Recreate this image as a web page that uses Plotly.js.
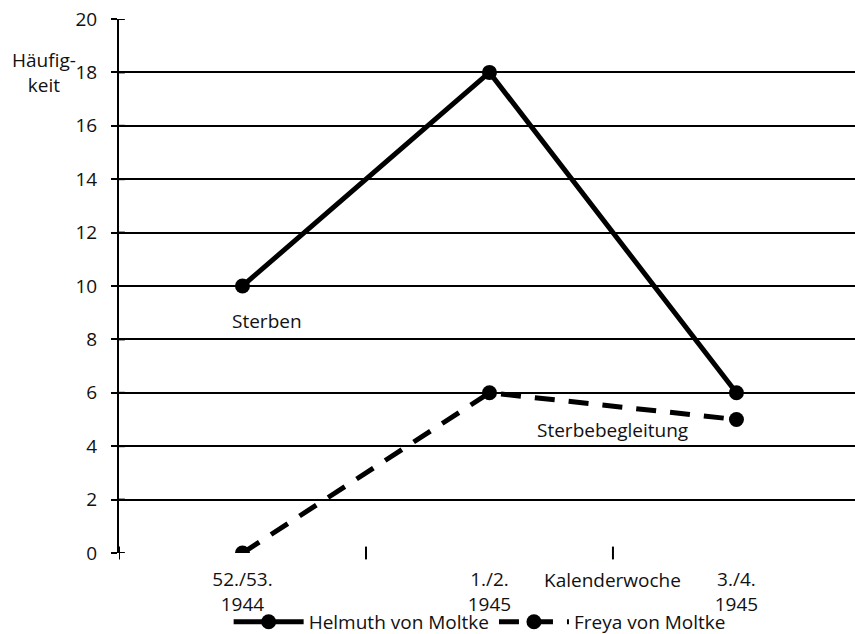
<!DOCTYPE html>
<html><head><meta charset="utf-8">
<script src="https://cdn.plot.ly/plotly-3.0.1.min.js"></script>
<style>html,body{margin:0;padding:0;background:#fff;}#chart{width:855px;height:634px;}</style>
</head><body><div id="chart"></div>
<script>
const weeks = ["52./53.<br>1944", "1./2.<br>1945", "3./4.<br>1945"];
const helmuth = [10, 18, 6];
const freya = [0, 6, 5];
const seriesNames = ["Helmuth von Moltke", "Freya von Moltke"];
const yTicks = [0, 2, 4, 6, 8, 10, 12, 14, 16, 18, 20];

const font = {family: "Open Sans, Lato, sans-serif", size: 19, color: "#111"};
const traces = [
  {x: [0, 1, 2], y: helmuth, type: "scatter", mode: "lines+markers", name: seriesNames[0],
   line: {color: "#000", width: 5}, marker: {color: "#000", size: 15}},
  {x: [0, 1, 2], y: freya, type: "scatter", mode: "lines+markers", name: seriesNames[1],
   line: {color: "#000", width: 5, dash: "20px,14px"}, marker: {color: "#000", size: 15}}
];
const layout = {
  width: 855, height: 634,
  margin: {l: 119, r: 0, t: 19, b: 81, autoexpand: false},
  paper_bgcolor: "#fff", plot_bgcolor: "#fff",
  font: font,
  showlegend: true,
  legend: {orientation: "h", x: 0.49, xanchor: "center", y: -0.129, yanchor: "middle",
           font: font, itemwidth: 70, bgcolor: "rgba(0,0,0,0)", traceorder: "normal",
           tracegroupgap: 0, borderwidth: 0},
  xaxis: {type: "linear", range: [-0.5, 2.48], tickvals: [0, 1, 2], ticktext: weeks,
          showgrid: false, zeroline: false, showline: false, ticks: "", automargin: false,
          tickfont: font, ticklabelstandoff: 13},
  yaxis: {range: [0, 20], tickvals: yTicks, showgrid: true, gridcolor: "#000", gridwidth: 2,
          zeroline: false, showline: true, linecolor: "#000", linewidth: 2, automargin: false,
          ticks: "outside", ticklen: 6, tickwidth: 2, tickcolor: "#000", tickfont: font,
          ticklabelstandoff: 10},
  shapes: [],
  annotations: [
    {text: "Häufig-<br>keit", xref: "paper", yref: "paper", x: -0.102, y: 0.9, xanchor: "center", yanchor: "middle",
     showarrow: false, font: font},
    {text: "Kalenderwoche", xref: "x", yref: "paper", x: 1.5, y: -0.0506, xanchor: "center", yanchor: "middle",
     showarrow: false, font: font},
    {text: "Sterben", xref: "x", yref: "y", x: 0.1, y: 8.7, showarrow: false, font: font},
    {text: "Sterbebegleitung", xref: "x", yref: "y", x: 1.5, y: 4.6, showarrow: false, font: font}
  ]
};
// cross-shaped ticks at category boundaries on x axis
[-0.5, 0.5, 1.5].forEach(v => {
  layout.shapes.push({type: "line", xref: "x", yref: "paper", x0: v, x1: v, y0: -0.012, y1: 0.012,
    line: {color: "#000", width: 2}});
});
// inner half of y ticks
yTicks.forEach(v => {
  layout.shapes.push({type: "line", xref: "paper", yref: "y", x0: 0, x1: 0.008, y0: v, y1: v,
    line: {color: "#000", width: 2}});
});
Plotly.newPlot("chart", traces, layout, {displayModeBar: false, staticPlot: true});
</script></body></html>
